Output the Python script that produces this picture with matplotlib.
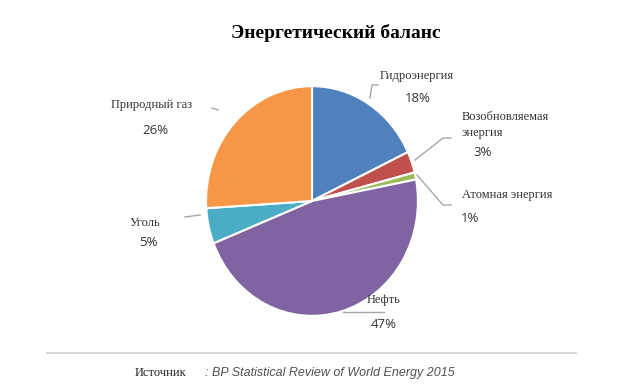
import matplotlib

matplotlib.use("Agg")
import matplotlib.pyplot as plt

# ----- data --------------------------------------------------------------
labels = ["Гидроэнергия", "Возобновляемая\nэнергия", "Атомная энергия",
          "Нефть", "Уголь", "Природный газ"]
shares = [18, 3, 1, 47, 5, 26]
colors = ["#4F81BD", "#C0504D", "#9BBB59", "#8064A2", "#4BACC6", "#F79646"]
# ----- layout (pixel coords, y down) -------------------------------------
W, H = 640, 385
PIE_BOX = (205, 85, 419, 317)          # left, top, right, bottom
# name position, name ha, pct position
LBL = [((417, 76), "center", (418, 99)),
       ((462, 125), "left", (483, 152)),
       ((462, 195), "left", (470, 218)),
       ((384, 300), "center", (384, 325)),
       ((145, 223), "center", (148, 242)),
       ((152, 105), "center", (155, 131))]
LEADERS = [[(370, 98), (372, 85), (378, 85)],
           [(415, 160), (443, 138), (451, 138)],
           [(417, 175), (443, 205), (451, 205)],
           [(343, 312), (384, 312)],
           [(185, 217), (200, 215)],
           [(212, 108), (218, 110)]]
TXT = "#333333"
LINE = "#A6A6A6"
# -------------------------------------------------------------------------

fig = plt.figure(figsize=(W / 100, H / 100), dpi=100)
fig.patch.set_facecolor("white")

l, t, r, b = PIE_BOX
pax = fig.add_axes([l / W, 1 - b / H, (r - l) / W, (b - t) / H])
pax.pie(shares, colors=colors, startangle=90, counterclock=False,
        wedgeprops=dict(edgecolor="white", linewidth=1.5))
pax.set_aspect("auto")
pax.set_xlim(-1.01, 1.01)
pax.set_ylim(-1.01, 1.01)
pax.axis("off")

ax = fig.add_axes([0, 0, 1, 1], zorder=2)
ax.set_xlim(0, W)
ax.set_ylim(H, 0)
ax.axis("off")
ax.patch.set_alpha(0)

for name, pct, (npos, ha, ppos), pts in zip(labels, shares, LBL, LEADERS):
    ax.text(npos[0], npos[1], name, ha=ha, va="center", fontsize=9,
            family="Liberation Serif", color=TXT, linespacing=1.45)
    ax.text(ppos[0], ppos[1], f"{pct}%", ha="center", va="center", fontsize=9.5,
            family="Open Sans", color=TXT)
    xs, ys = zip(*pts)
    ax.plot(xs, ys, color=LINE, lw=1)

ax.text(336, 33, "Энергетический баланс", ha="center", va="center",
        fontsize=14, fontweight="bold", family="Liberation Serif", color="black")
ax.plot([47, 576], [353, 353], color="#D9D9D9", lw=1.5)
ax.text(135, 373, "Источник", ha="left", va="center", fontsize=9,
        family="Liberation Serif", color="#202020")
ax.text(205, 373, ": BP Statistical Review of World Energy 2015", ha="left",
        va="center", fontsize=9, style="italic", family="Liberation Sans",
        color="#505050")

fig.savefig("out.png", dpi=100)
